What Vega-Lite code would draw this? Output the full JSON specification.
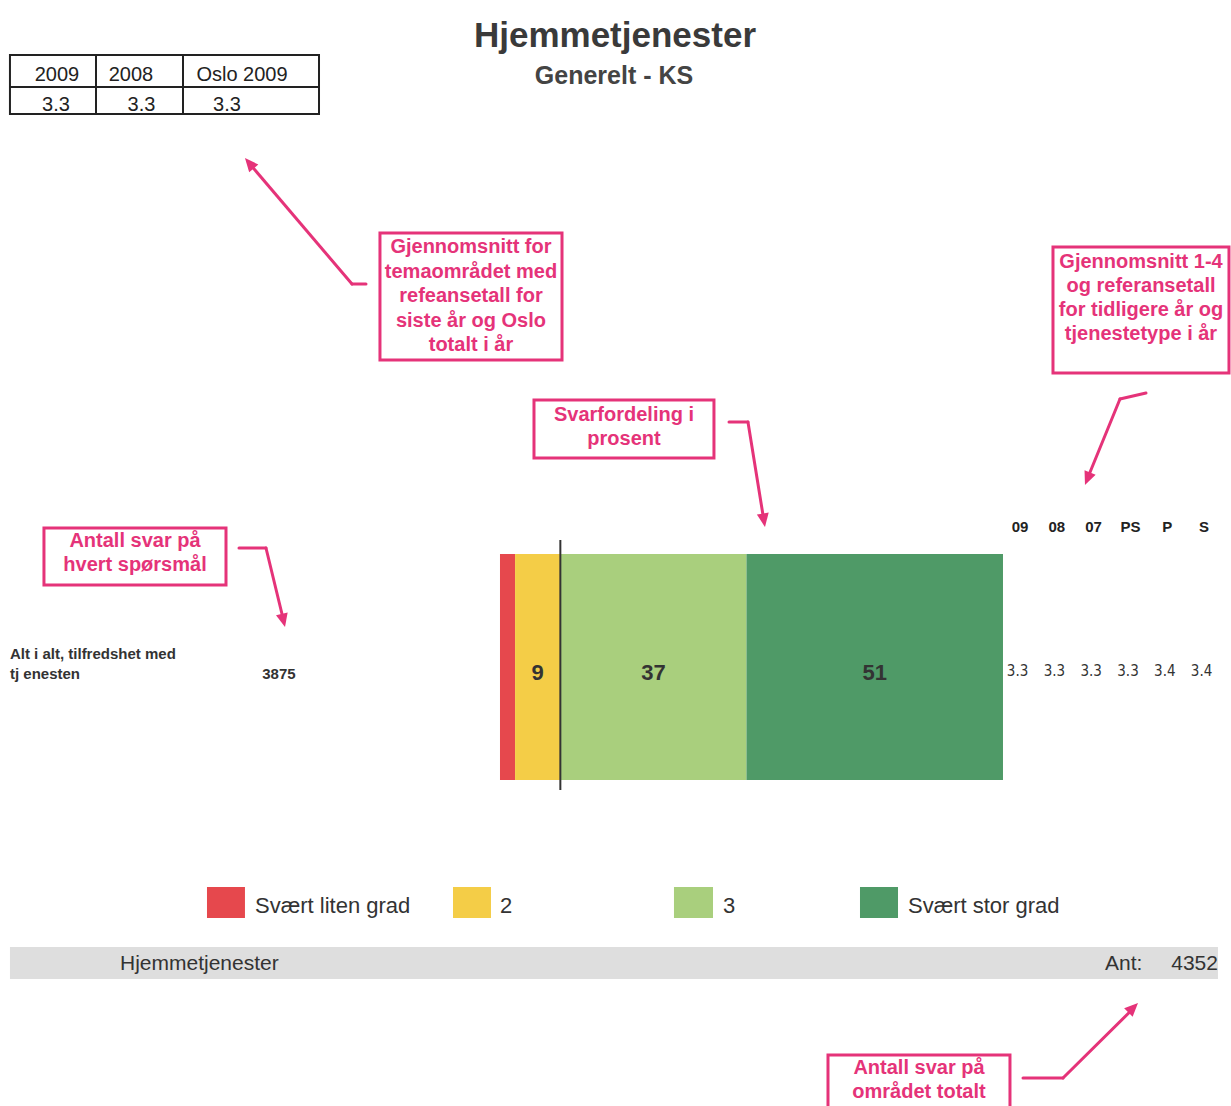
{
  "$schema": "https://vega.github.io/schema/vega-lite/v6.json",
  "width": 1231,
  "height": 1106,
  "autosize": {"type": "fit", "contains": "padding"},
  "padding": 0,
  "background": "white",
  "config": {"view": {"stroke": null}, "axis": {"disable": true}},
  "datasets": {
    "resp": [
      {"cat": "Svært liten grad", "rank": 1, "pct": 3},
      {"cat": "2", "rank": 2, "pct": 9},
      {"cat": "3", "rank": 3, "pct": 37},
      {"cat": "Svært stor grad", "rank": 4, "pct": 51}
    ],
    "table": [
      {"ref": "2009", "avg": 3.3},
      {"ref": "2008", "avg": 3.3},
      {"ref": "Oslo 2009", "avg": 3.3}
    ],
    "refs": [
      {"key": "09", "avg": 3.3},
      {"key": "08", "avg": 3.3},
      {"key": "07", "avg": 3.3},
      {"key": "PS", "avg": 3.3},
      {"key": "P", "avg": 3.4},
      {"key": "S", "avg": 3.4}
    ],
    "question": [{"question": "Alt i alt, tilfredshet med tjenesten", "n": 3875}],
    "area": [{"area": "Hjemmetjenester", "n": 4352}]
  },
  "data": {"values": [{}]},
  "resolve": {"scale": {"xOffset": "independent"}},
  "layer": [
    {
      "mark": {"type": "text", "text": "Hjemmetjenester", "font": "Liberation Sans", "fontWeight": "bold", "fontSize": 35, "color": "#3a3a3a", "align": "center", "baseline": "alphabetic"},
      "encoding": {
        "x": {"datum": 22.86, "type": "quantitative", "scale": {"domain": [-99.4, 145.33], "nice": false, "zero": false}, "axis": null},
        "y": {"datum": 47, "type": "quantitative", "scale": {"domain": [0, 1106], "reverse": true, "nice": false, "zero": false}, "axis": null}
      }
    },
    {
      "mark": {"type": "text", "text": "Generelt - KS", "font": "Liberation Sans", "fontWeight": "bold", "fontSize": 25, "color": "#444444", "align": "center", "baseline": "alphabetic"},
      "encoding": {"x": {"datum": 22.66}, "y": {"datum": 84}}
    },
    {
      "mark": {"type": "rect", "fill": "transparent", "stroke": "#222222", "strokeWidth": 2},
      "encoding": {"x": {"datum": -97.42}, "x2": {"datum": -35.98}, "y": {"datum": 55}, "y2": {"datum": 114}}
    },
    {
      "mark": {"type": "rule", "color": "#222222", "strokeWidth": 2},
      "encoding": {"x": {"datum": -97.42}, "x2": {"datum": -35.98}, "y": {"datum": 87}}
    },
    {
      "mark": {"type": "rule", "color": "#222222", "strokeWidth": 2},
      "encoding": {"x": {"datum": -80.32}, "y": {"datum": 55}, "y2": {"datum": 114}}
    },
    {
      "mark": {"type": "rule", "color": "#222222", "strokeWidth": 2},
      "encoding": {"x": {"datum": -63.02}, "y": {"datum": 55}, "y2": {"datum": 114}}
    },
    {
      "mark": {"type": "text", "text": "2009", "font": "Liberation Sans", "fontSize": 20, "color": "#222222", "align": "center", "baseline": "alphabetic"},
      "encoding": {"x": {"datum": -88.07}, "y": {"datum": 81}}
    },
    {
      "mark": {"type": "text", "text": "2008", "font": "Liberation Sans", "fontSize": 20, "color": "#222222", "align": "center", "baseline": "alphabetic"},
      "encoding": {"x": {"datum": -73.36}, "y": {"datum": 81}}
    },
    {
      "mark": {"type": "text", "text": "Oslo 2009", "font": "Liberation Sans", "fontSize": 20, "color": "#222222", "align": "center", "baseline": "alphabetic"},
      "encoding": {"x": {"datum": -51.29}, "y": {"datum": 81}}
    },
    {
      "data": {"name": "table"},
      "mark": {"type": "text", "font": "Liberation Sans", "fontSize": 20, "color": "#222222", "align": "center", "baseline": "alphabetic"},
      "encoding": {
        "x": {"datum": -88.27},
        "xOffset": {"field": "ref", "type": "nominal", "sort": null, "scale": {"type": "point", "domain": ["2009", "2008", "Oslo 2009"], "range": [0, 171], "padding": 0}},
        "y": {"datum": 111},
        "text": {"field": "avg", "type": "quantitative", "format": ".1f"}
      }
    },
    {
      "mark": {"type": "rect", "fill": "white", "stroke": "#E53379", "strokeWidth": 3},
      "encoding": {"x": {"datum": -23.86}, "x2": {"datum": 12.33}, "y": {"datum": 233}, "y2": {"datum": 360}}
    },
    {
      "mark": {"type": "rect", "fill": "white", "stroke": "#E53379", "strokeWidth": 3},
      "encoding": {"x": {"datum": 109.94}, "x2": {"datum": 144.93}, "y": {"datum": 247}, "y2": {"datum": 373}}
    },
    {
      "mark": {"type": "rect", "fill": "white", "stroke": "#E53379", "strokeWidth": 3},
      "encoding": {"x": {"datum": 6.76}, "x2": {"datum": 42.54}, "y": {"datum": 400}, "y2": {"datum": 458}}
    },
    {
      "mark": {"type": "rect", "fill": "white", "stroke": "#E53379", "strokeWidth": 3},
      "encoding": {"x": {"datum": -90.66}, "x2": {"datum": -54.47}, "y": {"datum": 528}, "y2": {"datum": 585}}
    },
    {
      "mark": {"type": "rect", "fill": "white", "stroke": "#E53379", "strokeWidth": 3, "clip": true},
      "encoding": {"x": {"datum": 65.21}, "x2": {"datum": 101.39}, "y": {"datum": 1055}, "y2": {"datum": 1115}}
    },
    {
      "mark": {"type": "text", "text": ["Gjennomsnitt for", "temaområdet med", "refeansetall for", "siste år og Oslo", "totalt i år"], "font": "Liberation Sans", "fontWeight": "bold", "fontSize": 20, "lineHeight": 24.5, "color": "#E53379", "align": "center", "baseline": "alphabetic"},
      "encoding": {"x": {"datum": -5.77}, "y": {"datum": 253}}
    },
    {
      "mark": {"type": "text", "text": ["Gjennomsnitt 1-4", "og referansetall", "for tidligere år og", "tjenestetype i år"], "font": "Liberation Sans", "fontWeight": "bold", "fontSize": 20, "lineHeight": 24, "color": "#E53379", "align": "center", "baseline": "alphabetic"},
      "encoding": {"x": {"datum": 127.44}, "y": {"datum": 268}}
    },
    {
      "mark": {"type": "text", "text": ["Svarfordeling i", "prosent"], "font": "Liberation Sans", "fontWeight": "bold", "fontSize": 20, "lineHeight": 24, "color": "#E53379", "align": "center", "baseline": "alphabetic"},
      "encoding": {"x": {"datum": 24.65}, "y": {"datum": 421}}
    },
    {
      "mark": {"type": "text", "text": ["Antall svar på", "hvert spørsmål"], "font": "Liberation Sans", "fontWeight": "bold", "fontSize": 20, "lineHeight": 24, "color": "#E53379", "align": "center", "baseline": "alphabetic"},
      "encoding": {"x": {"datum": -72.56}, "y": {"datum": 547}}
    },
    {
      "mark": {"type": "text", "text": ["Antall svar på", "området totalt"], "font": "Liberation Sans", "fontWeight": "bold", "fontSize": 20, "lineHeight": 24, "color": "#E53379", "align": "center", "baseline": "alphabetic"},
      "encoding": {"x": {"datum": 83.30}, "y": {"datum": 1074}}
    },
    {
      "mark": {"type": "rule", "color": "#E53379", "strokeWidth": 3, "strokeCap": "round"},
      "encoding": {"x": {"datum": -26.64}, "y": {"datum": 284}, "x2": {"datum": -29.42}, "y2": {"datum": 284}}
    },
    {
      "mark": {"type": "rule", "color": "#E53379", "strokeWidth": 3, "strokeCap": "round"},
      "encoding": {"x": {"datum": -29.42}, "y": {"datum": 284}, "x2": {"datum": -49.9}, "y2": {"datum": 163}}
    },
    {
      "mark": {"type": "rule", "color": "#E53379", "strokeWidth": 3, "strokeCap": "round"},
      "encoding": {"x": {"datum": 128.43}, "y": {"datum": 393}, "x2": {"datum": 123.26}, "y2": {"datum": 399}}
    },
    {
      "mark": {"type": "rule", "color": "#E53379", "strokeWidth": 3, "strokeCap": "round"},
      "encoding": {"x": {"datum": 123.26}, "y": {"datum": 399}, "x2": {"datum": 116.75}, "y2": {"datum": 479}}
    },
    {
      "mark": {"type": "rule", "color": "#E53379", "strokeWidth": 3, "strokeCap": "round"},
      "encoding": {"x": {"datum": 45.53}, "y": {"datum": 422}, "x2": {"datum": 49.30}, "y2": {"datum": 422}}
    },
    {
      "mark": {"type": "rule", "color": "#E53379", "strokeWidth": 3, "strokeCap": "round"},
      "encoding": {"x": {"datum": 49.30}, "y": {"datum": 422}, "x2": {"datum": 52.48}, "y2": {"datum": 521}}
    },
    {
      "mark": {"type": "rule", "color": "#E53379", "strokeWidth": 3, "strokeCap": "round"},
      "encoding": {"x": {"datum": -51.89}, "y": {"datum": 548}, "x2": {"datum": -46.52}, "y2": {"datum": 548}}
    },
    {
      "mark": {"type": "rule", "color": "#E53379", "strokeWidth": 3, "strokeCap": "round"},
      "encoding": {"x": {"datum": -46.52}, "y": {"datum": 548}, "x2": {"datum": -43.0}, "y2": {"datum": 621}}
    },
    {
      "mark": {"type": "rule", "color": "#E53379", "strokeWidth": 3, "strokeCap": "round"},
      "encoding": {"x": {"datum": 103.98}, "y": {"datum": 1078}, "x2": {"datum": 111.93}, "y2": {"datum": 1078}}
    },
    {
      "mark": {"type": "rule", "color": "#E53379", "strokeWidth": 3, "strokeCap": "round"},
      "encoding": {"x": {"datum": 111.93}, "y": {"datum": 1078}, "x2": {"datum": 126.0}, "y2": {"datum": 1008}}
    },
    {
      "mark": {"type": "point", "shape": "M0,0L-0.75,1.7L0.75,1.7Z", "filled": true, "opacity": 1, "color": "#E53379", "size": 256, "angle": 319.7},
      "encoding": {"x": {"datum": -50.70}, "y": {"datum": 158}}
    },
    {
      "mark": {"type": "point", "shape": "M0,0L-0.75,1.7L0.75,1.7Z", "filled": true, "opacity": 1, "color": "#E53379", "size": 256, "angle": 202.1},
      "encoding": {"x": {"datum": 116.30}, "y": {"datum": 485}}
    },
    {
      "mark": {"type": "point", "shape": "M0,0L-0.75,1.7L0.75,1.7Z", "filled": true, "opacity": 1, "color": "#E53379", "size": 256, "angle": 170.8},
      "encoding": {"x": {"datum": 52.68}, "y": {"datum": 527}}
    },
    {
      "mark": {"type": "point", "shape": "M0,0L-0.75,1.7L0.75,1.7Z", "filled": true, "opacity": 1, "color": "#E53379", "size": 256, "angle": 166.5},
      "encoding": {"x": {"datum": -42.74}, "y": {"datum": 627}}
    },
    {
      "mark": {"type": "point", "shape": "M0,0L-0.75,1.7L0.75,1.7Z", "filled": true, "opacity": 1, "color": "#E53379", "size": 256, "angle": 45},
      "encoding": {"x": {"datum": 126.84}, "y": {"datum": 1003}}
    },
    {
      "data": {"name": "resp"},
      "transform": [{"stack": "pct", "groupby": [], "sort": [{"field": "rank", "order": "ascending"}], "as": ["x0", "x1"]}],
      "mark": {"type": "rect"},
      "encoding": {
        "x": {"field": "x0", "type": "quantitative"},
        "x2": {"field": "x1"},
        "y": {"datum": 554},
        "y2": {"datum": 780},
        "color": {"field": "cat", "type": "nominal", "scale": {"domain": ["Svært liten grad", "2", "3", "Svært stor grad"], "range": ["#E6484D", "#F4CD47", "#A9CF7D", "#4F9A67"]}, "legend": null}
      }
    },
    {
      "data": {"name": "resp"},
      "transform": [
        {"stack": "pct", "groupby": [], "sort": [{"field": "rank", "order": "ascending"}], "as": ["x0", "x1"]},
        {"filter": "datum.pct >= 5"},
        {"fold": ["x0", "x1"], "as": ["edge", "pos"]}
      ],
      "mark": {"type": "text", "font": "Liberation Sans", "fontWeight": "bold", "fontSize": 22, "color": "#333333", "align": "center", "baseline": "middle"},
      "encoding": {
        "x": {"aggregate": "mean", "field": "pos", "type": "quantitative"},
        "y": {"datum": 673},
        "detail": {"field": "cat", "type": "nominal"},
        "text": {"field": "pct", "type": "quantitative"}
      }
    },
    {
      "data": {"name": "resp"},
      "transform": [
        {"stack": "pct", "groupby": [], "sort": [{"field": "rank", "order": "ascending"}], "as": ["x0", "x1"]},
        {"filter": "datum.cat === '2'"}
      ],
      "mark": {"type": "rule", "color": "#333333", "strokeWidth": 2},
      "encoding": {"x": {"field": "x1", "type": "quantitative"}, "y": {"datum": 540}, "y2": {"datum": 790}}
    },
    {
      "mark": {"type": "text", "text": ["Alt i alt, tilfredshet med", "tj enesten"], "font": "Liberation Sans", "fontWeight": "bold", "fontSize": 15, "lineHeight": 20, "color": "#333333", "align": "left", "baseline": "alphabetic"},
      "encoding": {"x": {"datum": -97.42}, "y": {"datum": 659}}
    },
    {
      "data": {"name": "question"},
      "mark": {"type": "text", "font": "Liberation Sans", "fontWeight": "bold", "fontSize": 15, "color": "#333333", "align": "center", "baseline": "alphabetic"},
      "encoding": {"x": {"datum": -43.94}, "y": {"datum": 679}, "text": {"field": "n", "type": "quantitative", "format": "d"}}
    },
    {
      "data": {"name": "refs"},
      "mark": {"type": "text", "font": "Liberation Sans", "fontWeight": "bold", "fontSize": 15, "color": "#222222", "align": "center", "baseline": "alphabetic"},
      "encoding": {
        "x": {"datum": 103.38},
        "xOffset": {"field": "key", "type": "nominal", "sort": null, "scale": {"type": "point", "domain": ["09", "08", "07", "PS", "P", "S"], "range": [0, 184], "padding": 0}},
        "y": {"datum": 532},
        "text": {"field": "key", "type": "nominal"}
      }
    },
    {
      "data": {"name": "refs"},
      "mark": {"type": "text", "font": "DejaVu Sans Condensed, sans-serif", "fontSize": 15, "color": "#333333", "align": "center", "baseline": "alphabetic"},
      "encoding": {
        "x": {"datum": 102.9},
        "xOffset": {"field": "key", "type": "nominal", "sort": null, "scale": {"type": "point", "domain": ["09", "08", "07", "PS", "P", "S"], "range": [0, 184], "padding": 0}},
        "y": {"datum": 676},
        "text": {"field": "avg", "type": "quantitative", "format": ".1f"}
      }
    },
    {
      "mark": {"type": "rect"},
      "encoding": {"x": {"datum": -58.25}, "x2": {"datum": -50.70}, "y": {"datum": 887}, "y2": {"datum": 918}, "color": {"datum": "Svært liten grad", "type": "nominal"}}
    },
    {
      "mark": {"type": "rect"},
      "encoding": {"x": {"datum": -9.34}, "x2": {"datum": -1.79}, "y": {"datum": 887}, "y2": {"datum": 918}, "color": {"datum": "2", "type": "nominal"}}
    },
    {
      "mark": {"type": "rect"},
      "encoding": {"x": {"datum": 34.59}, "x2": {"datum": 42.35}, "y": {"datum": 887}, "y2": {"datum": 918}, "color": {"datum": "3", "type": "nominal"}}
    },
    {
      "mark": {"type": "rect"},
      "encoding": {"x": {"datum": 71.57}, "x2": {"datum": 79.13}, "y": {"datum": 887}, "y2": {"datum": 918}, "color": {"datum": "Svært stor grad", "type": "nominal"}}
    },
    {
      "mark": {"type": "text", "text": "Svært liten grad", "font": "Liberation Sans", "fontSize": 22, "color": "#333333", "align": "left", "baseline": "alphabetic"},
      "encoding": {"x": {"datum": -48.71}, "y": {"datum": 913}}
    },
    {
      "mark": {"type": "text", "text": "2", "font": "Liberation Sans", "fontSize": 22, "color": "#333333", "align": "left", "baseline": "alphabetic"},
      "encoding": {"x": {"datum": 0}, "y": {"datum": 913}}
    },
    {
      "mark": {"type": "text", "text": "3", "font": "Liberation Sans", "fontSize": 22, "color": "#333333", "align": "left", "baseline": "alphabetic"},
      "encoding": {"x": {"datum": 44.33}, "y": {"datum": 913}}
    },
    {
      "mark": {"type": "text", "text": "Svært stor grad", "font": "Liberation Sans", "fontSize": 22, "color": "#333333", "align": "left", "baseline": "alphabetic"},
      "encoding": {"x": {"datum": 81.11}, "y": {"datum": 913}}
    },
    {
      "mark": {"type": "rect", "color": "#DEDEDE"},
      "encoding": {"x": {"datum": -97.42}, "x2": {"datum": 142.74}, "y": {"datum": 947}, "y2": {"datum": 979}}
    },
    {
      "data": {"name": "area"},
      "mark": {"type": "text", "font": "Liberation Sans", "fontSize": 21, "color": "#333333", "align": "left", "baseline": "alphabetic"},
      "encoding": {"x": {"datum": -75.55}, "y": {"datum": 970}, "text": {"field": "area", "type": "nominal"}}
    },
    {
      "mark": {"type": "text", "text": "Ant:", "font": "Liberation Sans", "fontSize": 21, "color": "#333333", "align": "left", "baseline": "alphabetic"},
      "encoding": {"x": {"datum": 120.28}, "y": {"datum": 970}}
    },
    {
      "data": {"name": "area"},
      "mark": {"type": "text", "font": "Liberation Sans", "fontSize": 21, "color": "#333333", "align": "right", "baseline": "alphabetic"},
      "encoding": {"x": {"datum": 142.74}, "y": {"datum": 970}, "text": {"field": "n", "type": "quantitative", "format": "d"}}
    }
  ]
}
